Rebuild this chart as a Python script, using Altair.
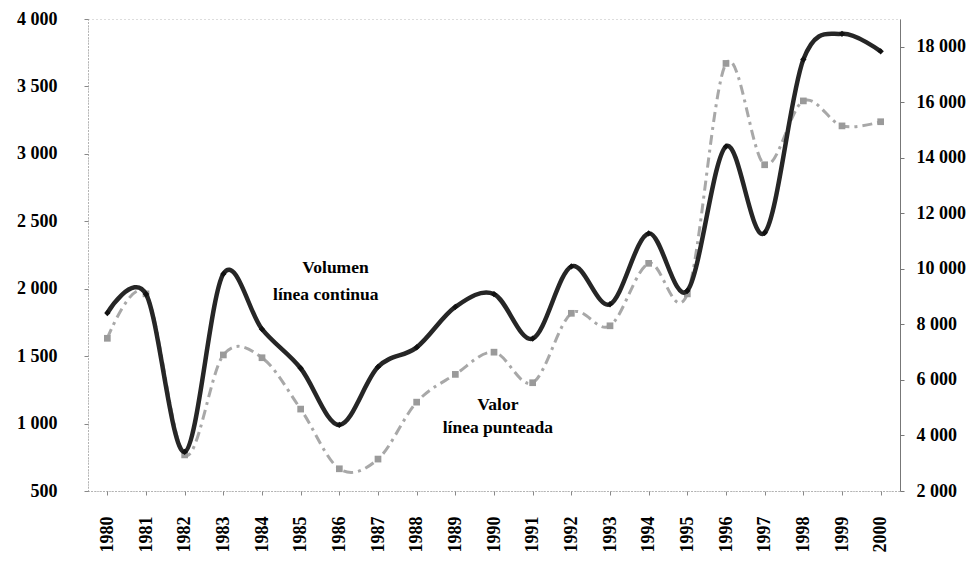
import altair as alt
import pandas as pd

years = list(range(1980, 2001))
volumen = [1820, 1960, 790, 2110, 1700, 1410, 990, 1420, 1565, 1865,
           1960, 1630, 2165, 1885, 2410, 1985, 3055, 2415, 3700, 3890, 3760]
valor = [7500, 9100, 3300, 6900, 6800, 4950, 2800, 3150, 5200, 6200,
         7000, 5900, 8400, 7950, 10200, 9100, 17400, 13750, 16050, 15150, 15300]

left_ticks = [500, 1000, 1500, 2000, 2500, 3000, 3500, 4000]
right_ticks = [2000, 4000, 6000, 8000, 10000, 12000, 14000, 16000, 18000]

ann_text = ["Volumen", "línea continua", "Valor", "línea punteada"]
ann_year = [1985.9, 1985.65, 1990.1, 1990.1]
ann_vol = [2150, 1955, 1140, 965]

df = pd.DataFrame({"year": years, "volumen": volumen, "valor": valor})
ann = pd.DataFrame({"year": ann_year, "volumen": ann_vol, "text": ann_text})

FONT = "Liberation Serif"
fmt = "replace(format(datum.value, ',d'), ',', ' ')"

x = alt.X(
    "year:Q",
    scale=alt.Scale(domain=[1979.5, 2000.5], nice=False, zero=False),
    axis=alt.Axis(values=years, format="d", labelAngle=270, title=None, grid=False,
                  labelFont=FONT, labelFontWeight="bold", labelFontSize=18,
                  labelColor="black", tickSize=4, labelPadding=21,
                  domainColor="#888", domainDash=[1, 2], tickColor="#888"),
)

y_left = alt.Y(
    "volumen:Q",
    scale=alt.Scale(domain=[500, 4000], nice=False, zero=False),
    axis=alt.Axis(values=left_ticks, labelExpr=fmt, title=None, grid=False,
                  orient="left", labelFont=FONT, labelFontWeight="bold",
                  labelFontSize=18, labelColor="black", tickSize=4,
                  labelPadding=27, domainColor="#888", domainDash=[1, 2],
                  tickColor="#888"),
)

y_right = alt.Y(
    "valor:Q",
    scale=alt.Scale(domain=[2000, 19000], nice=False, zero=False),
    axis=alt.Axis(values=right_ticks, labelExpr=fmt, title=None, grid=False,
                  orient="right", labelFont=FONT, labelFontWeight="bold",
                  labelFontSize=18, labelColor="black", tickSize=4,
                  labelPadding=12, domainColor="#777", tickColor="#777"),
)

gray = alt.Chart(df).mark_line(
    interpolate="cardinal", color="#a8a8a8", strokeWidth=3, strokeDash=[10, 5, 3, 5],
    point=alt.OverlayMarkDef(shape="square", size=45, filled=True, color="#9a9a9a"),
).encode(x=x, y=y_right)

dark = alt.Chart(df).mark_line(
    interpolate="cardinal", color="#262626", strokeWidth=4.5,
    point=alt.OverlayMarkDef(shape="diamond", size=40, filled=True, color="#111111"),
).encode(x=x, y=y_left)

text = alt.Chart(ann).mark_text(
    font=FONT, fontWeight="bold", fontSize=17.5, color="black"
).encode(x=x, y=y_left, text="text:N")

chart = alt.layer(gray, alt.layer(dark, text)).resolve_scale(y="independent").properties(
    width=812, height=472,
    padding={"left": 8, "top": 2, "right": 0, "bottom": 0},
).configure_view(stroke="#bbb", strokeDash=[1, 3])

chart.save("out.html", embed_options={"renderer": "svg", "actions": False})
